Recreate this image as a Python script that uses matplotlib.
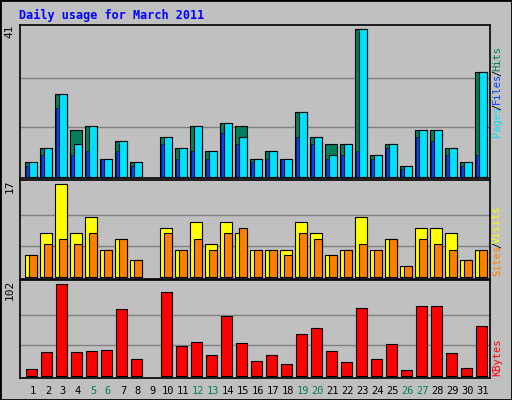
import matplotlib
matplotlib.use("Agg")
import matplotlib.pyplot as plt
from matplotlib.patches import Rectangle

days = list(range(1, 32))
hits = [4,8,23,13,14,5,10,4,0,11,8,14,7,15,14,5,7,5,18,11,9,9,41,6,9,3,13,13,8,4,29]
pages = [4,8,23,9,14,5,10,4,0,11,8,14,7,15,11,5,7,5,18,11,6,9,41,6,9,3,13,13,8,4,29]
files = [3,6,19,6,7,5,7,3,0,9,5,7,5,12,9,4,5,5,11,9,5,6,7,5,8,2,11,10,6,3,6]
visits = [4,8,17,8,11,5,7,3,0,9,5,10,6,10,8,5,5,5,10,8,4,5,11,5,7,2,9,9,8,3,5]
sites = [4,6,7,6,8,5,7,3,0,8,5,7,5,8,9,5,5,4,8,7,4,5,6,5,7,2,7,6,5,3,5]
kbytes = [7,26,102,26,27,29,74,18,0,93,33,37,23,66,36,16,23,13,46,53,27,15,75,18,35,6,78,77,25,8,55]
weekend = [5,6,12,13,19,20,26,27]

BG = "#C0C0C0"
fig = plt.figure(figsize=(5.12, 4.0), dpi=100, facecolor=BG)
fig.patches.append(Rectangle((0, 0), 1, 1, transform=fig.transFigure, fill=False,
                             edgecolor="black", lw=2))
fig.text(19/512, 1-15/400, "Daily usage for March 2011", color="#0000FF",
         family="DejaVu Sans Mono", weight="bold", fontsize=8.5, va="center")

W, H = 512, 400
def mkax(top, bot):
    ax = fig.add_axes([20/W, 1-bot/H, 470/W, (bot-top)/H])
    ax.set_facecolor(BG)
    ax.set_xlim(0.267, 31.6)
    ax.set_xticks([]); ax.set_yticks([])
    for s in ax.spines.values():
        s.set_color("black"); s.set_linewidth(1.2)
    return ax

ek = dict(edgecolor="black", linewidth=0.8)
mono = "DejaVu Sans Mono"

def nz(xs, vs):
    pairs = [(x, v) for x, v in zip(xs, vs) if v > 0]
    return [p[0] for p in pairs], [p[1] for p in pairs]

ax1 = mkax(25, 178)
ax1.set_ylim(-0.36, 42.1)
for g in (41/3, 82/3):
    ax1.axhline(g, color="#808080", lw=1, zorder=0)
ax1.bar(*nz(days, hits), width=0.8, color="#00805C", zorder=2, **ek)
ax1.bar(*nz([d+0.133 for d in days], pages), width=0.533, color="#00E0FF", zorder=3, **ek)
ax1.bar(*nz([d-0.22 for d in days], files), width=0.16, color="#0040FF", zorder=4,
        edgecolor="black", linewidth=0.4)
ax1.text(-0.012, 1.0, "41", transform=ax1.transAxes, rotation=90, ha="right", va="top",
         family=mono, fontsize=8)

ax2 = mkax(180, 279)
ax2.set_ylim(-0.42, 17.8)
for g in (17/3, 34/3):
    ax2.axhline(g, color="#808080", lw=1, zorder=0)
ax2.bar(*nz(days, visits), width=0.8, color="#FFFF00", zorder=2, **ek)
ax2.bar(*nz([d+0.133 for d in days], sites), width=0.533, color="#FF8000", zorder=3, **ek)
ax2.text(-0.012, 1.0, "17", transform=ax2.transAxes, rotation=90, ha="right", va="top",
         family=mono, fontsize=8)

ax3 = mkax(280, 378)
ax3.set_ylim(-2.6, 106.5)
for g in (34, 68):
    ax3.axhline(g, color="#808080", lw=1, zorder=0)
ax3.bar(*nz([d+0.05 for d in days], kbytes), width=0.71, color="#FF0000", zorder=2, **ek)
ax3.text(-0.012, 1.0, "102", transform=ax3.transAxes, rotation=90, ha="right", va="top",
         family=mono, fontsize=8)

for d in days:
    ax3.text(d+0.13, -0.08, str(d), transform=ax3.get_xaxis_transform(), ha="center",
             va="top", family=mono, fontsize=7.5,
             color="#00805C" if d in weekend else "black")

def side(parts, y_px):
    y = y_px
    for txt, col in parts:
        fig.text(492/W, 1-y/H, txt, rotation=90, ha="left", va="bottom",
                 color=col, family=mono, fontsize=7.5)
        y -= len(txt) * 5.5
side([("Pages", "#00E0FF"), ("/", "black"), ("Files", "#0040FF"),
      ("/", "black"), ("Hits", "#00805C")], 137)
for i, (txt, col) in enumerate([]):
    pass
side([("Sites", "#FF8000"), ("/", "black"), ("Visits", "#FFFF00")], 276)
side([("KBytes", "#FF0000")], 376)

fig.savefig("out.png", dpi=100, facecolor=BG)
